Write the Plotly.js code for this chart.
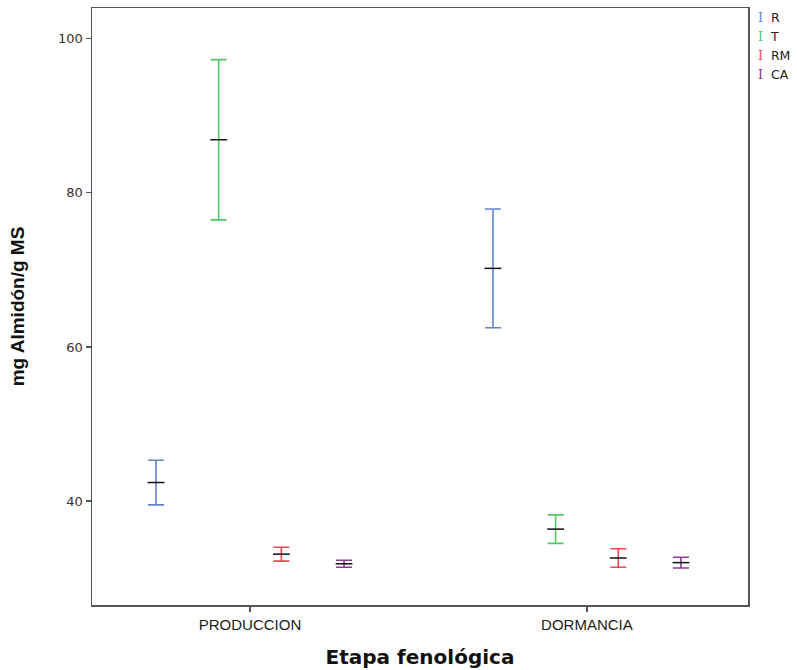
<!DOCTYPE html>
<html><head><meta charset="utf-8">
<script src="https://cdn.plot.ly/plotly-3.0.1.min.js"></script>
<style>body{margin:0;background:#fff}#chart{width:797px;height:670px}</style>
</head><body><div id="chart"></div>
<script>
const categories = ["PRODUCCION", "DORMANCIA"];
const seriesNames = ["R", "T", "RM", "CA"];
const meanR  = [42.4, 70.2];
const meanT  = [86.9, 36.35];
const meanRM = [33.1, 32.6];
const meanCA = [31.85, 32.0];
const errR  = [2.9, 7.7];
const errT  = [10.4, 1.85];
const errRM = [0.9, 1.2];
const errCA = [0.45, 0.7];
const yTicks = [40, 60, 80, 100];

const colors = ["rgb(100,130,205)", "rgb(80,200,100)", "rgb(240,70,80)", "rgb(140,60,140)"];
const means = [meanR, meanT, meanRM, meanCA];
const errs = [errR, errT, errRM, errCA];

const traces = seriesNames.map((n, i) => ({
  type: "scatter", mode: "markers", name: n,
  x: categories, y: means[i],
  marker: {symbol: "line-ew", size: 12, color: "#111", line: {color: "#111", width: 1.5}},
  error_y: {type: "data", array: errs[i], visible: true, color: colors[i], thickness: 1.6, width: 8},
  showlegend: false, cliponaxis: false
}));

const annotations = seriesNames.map((n, i) => ({
  xref: "paper", yref: "paper", x: 1.012, y: 1 - i * 0.0318, xanchor: "left", yanchor: "top",
  showarrow: false, align: "left",
  text: '<span style="color:' + colors[i] + ';font-family:\'DejaVu Serif\'">I</span>  ' + n,
  font: {family: "DejaVu Sans", size: 12.5, color: "#222"}
}));

const layout = {
  width: 797, height: 670,
  margin: {l: 92, r: 49, t: 8, b: 65},
  paper_bgcolor: "#fff", plot_bgcolor: "#fff",
  scattermode: "group", scattergap: 0.256,
  showlegend: false,
  font: {family: "DejaVu Sans", color: "#222"},
  xaxis: {
    type: "category", range: [-0.469, 1.478],
    showgrid: false, zeroline: false,
    showline: true, mirror: true, linecolor: "#555", linewidth: 1.5,
    ticks: "outside", ticklen: 5, tickwidth: 1.2, tickcolor: "#555",
    tickfont: {family: "Liberation Sans, Arial", size: 15, color: "#222"},
    title: {text: "<b>Etapa fenológica</b>", font: {family: "DejaVu Sans", size: 20, color: "#111"}, standoff: 18}
  },
  yaxis: {
    range: [26.5, 104.0], tickvals: yTicks,
    showgrid: false, zeroline: false,
    showline: true, mirror: true, linecolor: "#555", linewidth: 1.5,
    ticks: "outside", ticklen: 5, tickwidth: 1.2, tickcolor: "#555",
    tickfont: {family: "DejaVu Sans", size: 13, color: "#333"},
    title: {text: "<b>mg Almidón/g MS</b>", font: {family: "Liberation Sans, Arial", size: 19, color: "#111"}, standoff: 28}
  },
  annotations: annotations
};
Plotly.newPlot("chart", traces, layout, {displayModeBar: false, staticPlot: true});
</script></body></html>
